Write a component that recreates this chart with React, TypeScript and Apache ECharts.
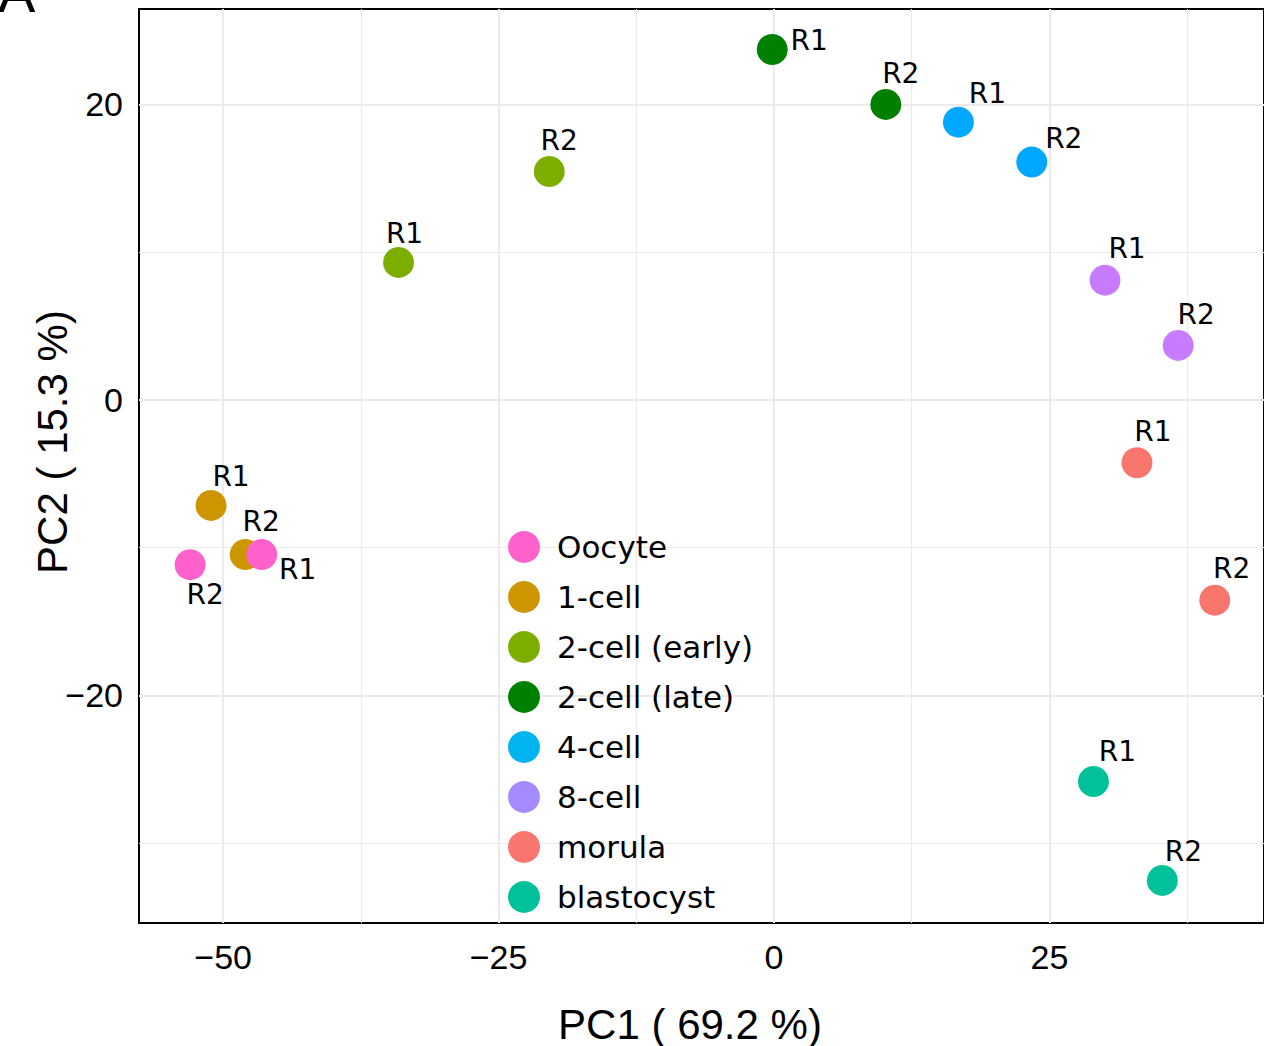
import React, { useEffect, useRef } from "react";
import * as echarts from "echarts";

// ---- data ----
const stages = ["Oocyte", "1-cell", "2-cell (early)", "2-cell (late)", "4-cell", "8-cell", "morula", "blastocyst"];
const replicates = ["R1", "R2"];
const oocyteX = [-46.5, -53.0];
const oocyteY = [-10.46, -11.15];
const cell1X = [-51.1, -48.0];
const cell1Y = [-7.14, -10.46];
const cell2eX = [-34.08, -20.4];
const cell2eY = [9.31, 15.46];
const cell2lX = [-0.16, 10.15];
const cell2lY = [23.72, 20.0];
const cell4X = [16.74, 23.4];
const cell4Y = [18.8, 16.1];
const cell8X = [30.05, 36.69];
const cell8Y = [8.11, 3.69];
const morulaX = [32.95, 40.01];
const morulaY = [-4.25, -13.55];
const blastX = [29.0, 35.25];
const blastY = [-25.82, -32.52];

const xTicks = [-50, -25, 0, 25];
const yTicks = [-20, 0, 20];
const xMinorGrid = [-37.5, -12.5, 12.5, 37.5];
const yMinorGrid = [-30, -10, 10];

// ---- styling ----
const pointColors = ["#FF61CC", "#CD9600", "#7CAE00", "#008000", "#00A9FF", "#C77CFF", "#F8766D", "#00C19A"];
const legendColors = ["#FF61CC", "#CD9600", "#7CAE00", "#008000", "#00B4EF", "#A58AFF", "#F8766D", "#00C19A"];
// label offsets (px) for [R1, R2] per stage
const labelOffsets: number[][][] = [
  [[36, 15], [15, 30]],
  [[20, -29], [16, -33]],
  [[6, -29], [10, -31]],
  [[37, -9], [15, -31]],
  [[29, -29], [32, -24]],
  [[22, -32], [18, -31]],
  [[16, -31], [17, -32]],
  [[24, -30], [21, -29]],
];

const xs = [oocyteX, cell1X, cell2eX, cell2lX, cell4X, cell8X, morulaX, blastX];
const ys = [oocyteY, cell1Y, cell2eY, cell2lY, cell4Y, cell8Y, morulaY, blastY];

const fmt = (v: number) => String(v).replace("-", "\u2212");

export default function App() {
  const ref = useRef<HTMLDivElement>(null);
  useEffect(() => {
    if (!ref.current) return;
    const chart = echarts.init(ref.current, null, { renderer: "svg" });

    const scatterSeries = stages.map((name, si) => ({
      name,
      type: "scatter",
      z: 3,
      symbol: "circle",
      symbolSize: 31,
      itemStyle: { color: pointColors[si], opacity: 1 },
      data: xs[si].map((x, i) => ({
        name: replicates[i],
        value: [x, ys[si][i]],
        label: { offset: labelOffsets[si][i] },
      })),
      label: {
        show: true,
        position: "inside",
        formatter: (p: any) => p.name,
        fontFamily: "DejaVu Sans",
        fontSize: 28,
        color: "#000",
      },
      emphasis: { disabled: true },
    }));
    // draw later stages first so Oocyte sits on top (as in reference)
    const orderedSeries = [...scatterSeries].reverse();

    const gridLineSeries = {
      name: "__grid",
      type: "scatter",
      z: 1,
      data: [],
      silent: true,
      markLine: {
        silent: true,
        z: 1,
        symbol: ["none", "none"],
        label: { show: false },
        animation: false,
        data: [
          ...xTicks.map((v) => ({ xAxis: v, lineStyle: { color: "#EBEBEB", width: 2, type: "solid" } })),
          ...xMinorGrid.map((v) => ({ xAxis: v, lineStyle: { color: "#EBEBEB", width: 1, type: "solid" } })),
          ...yTicks.map((v) => ({ yAxis: v, lineStyle: { color: "#EBEBEB", width: 2, type: "solid" } })),
          ...yMinorGrid.map((v) => ({ yAxis: v, lineStyle: { color: "#EBEBEB", width: 1, type: "solid" } })),
        ],
      },
    };

    chart.setOption({
      animation: false,
      backgroundColor: "#fff",
      grid: {
        left: 139,
        top: 9,
        right: -2,
        bottom: 123,
        show: true,
        borderColor: "#000",
        borderWidth: 2,
        backgroundColor: "#fff",
        containLabel: false,
      },
      xAxis: {
        type: "value",
        min: -57.64,
        max: 44.48,
        splitLine: { show: false },
        axisLine: { show: false },
        axisTick: { show: true, customValues: xTicks, length: 7, lineStyle: { color: "#333", width: 2 } },
        axisLabel: {
          customValues: xTicks,
          formatter: fmt,
          fontFamily: "Liberation Sans",
          fontSize: 34,
          color: "#000",
          margin: 17,
        },
      },
      yAxis: {
        type: "value",
        min: -35.4,
        max: 26.46,
        splitLine: { show: false },
        axisLine: { show: false },
        axisTick: { show: true, customValues: yTicks, length: 7, lineStyle: { color: "#333", width: 2 } },
        axisLabel: {
          customValues: yTicks,
          formatter: fmt,
          fontFamily: "Liberation Sans",
          fontSize: 34,
          color: "#000",
          margin: 16,
        },
      },
      legend: {
        show: true,
        orient: "vertical",
        left: 508,
        top: 531,
        padding: 0,
        z: 6,
        icon: "circle",
        itemWidth: 32,
        itemHeight: 32,
        itemGap: 18,
        selectedMode: false,
        textStyle: {
          fontFamily: "DejaVu Sans",
          fontSize: 31,
          lineHeight: 32,
          color: "#000",
          padding: [0, 0, 0, 12],
        },
        data: stages.map((name, i) => ({ name, itemStyle: { color: legendColors[i] } })),
      },
      graphic: [
        {
          type: "text",
          x: 690,
          y: 1024,
          style: {
            text: "PC1 ( 69.2 %)",
            fontFamily: "Liberation Sans",
            fontSize: 42,
            fill: "#000",
            align: "center",
            verticalAlign: "middle",
          },
        },
        {
          type: "text",
          x: 52,
          y: 442,
          rotation: Math.PI / 2,
          style: {
            text: "PC2 ( 15.3 %)",
            fontFamily: "Liberation Sans",
            fontSize: 42,
            fill: "#000",
            align: "center",
            verticalAlign: "middle",
          },
        },
        {
          type: "text",
          x: -2,
          y: -36,
          style: {
            text: "A",
            fontFamily: "Liberation Sans",
            fontSize: 56,
            fill: "#000",
            align: "left",
            verticalAlign: "top",
          },
        },
      ],
      series: [gridLineSeries, ...orderedSeries],
    });
    return () => chart.dispose();
  }, []);
  return (
    <div
      ref={ref}
      style={{ position: "fixed", left: 0, top: 0, width: 1264, height: 1046, background: "#fff" }}
    />
  );
}
